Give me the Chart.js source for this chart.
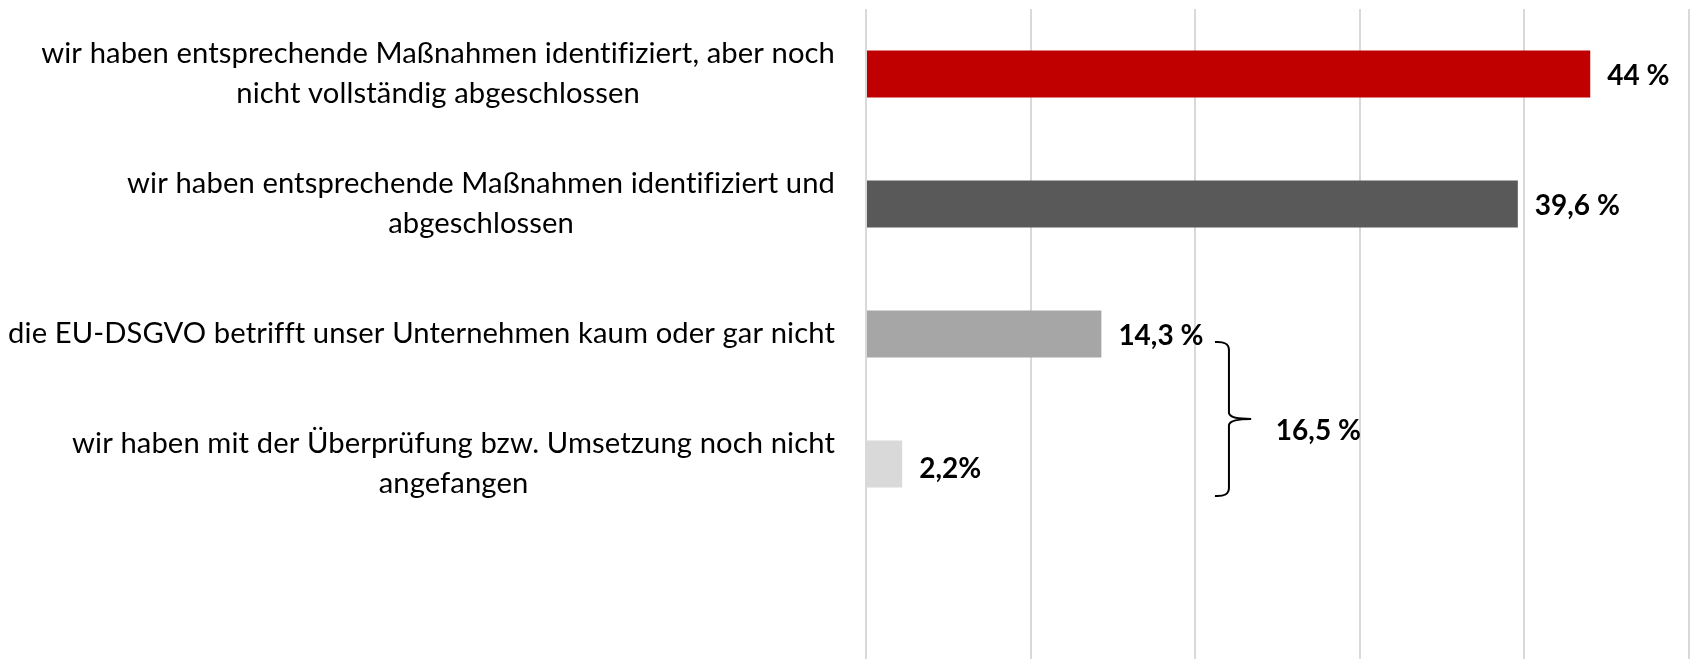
<!DOCTYPE html>
<html>
<head>
<meta charset="utf-8">
<script src="https://cdn.jsdelivr.net/npm/chart.js@4/dist/chart.umd.min.js"></script>
<style>
html,body{margin:0;padding:0;background:#fff;}
#wrap{width:1690px;height:659px;}
</style>
</head>
<body>
<div id="wrap"><canvas id="c" width="1690" height="659"></canvas></div>
<script>
const categories = [
  ["wir haben entsprechende Maßnahmen identifiziert, aber noch", "nicht vollständig abgeschlossen"],
  ["wir haben entsprechende Maßnahmen identifiziert und", "abgeschlossen"],
  ["die EU-DSGVO betrifft unser Unternehmen kaum oder gar nicht"],
  ["wir haben mit der Überprüfung bzw. Umsetzung noch nicht", "angefangen"]
];
const values = [44, 39.6, 14.3, 2.2];
const valueLabels = ["44 %", "39,6 %", "14,3 %", "2,2%"];
const barColors = ["#c00000", "#595959", "#a6a6a6", "#d9d9d9"];
const xTicks = [0, 10, 20, 30, 40, 50];
const bracketTotal = values[2] + values[3];

const FONT = "Lato";
const LABEL_SIZE = 29.2;
const VALUE_SIZE = 28;

const labelsPlugin = {
  id: 'labelsPlugin',
  afterDraw(chart) {
    const ctx = chart.ctx;
    const xs = chart.scales.x, ys = chart.scales.y;
    const area = chart.chartArea;
    ctx.save();
    ctx.font = LABEL_SIZE + "px " + FONT;
    try { ctx.letterSpacing = "0.1px"; } catch (e) {}
    ctx.fillStyle = "#000";
    ctx.textBaseline = "middle";
    ctx.textAlign = "center";
    const lineH = 40;
    categories.forEach((lines, i) => {
      const yc = ys.getPixelForValue(i);
      const w = Math.max(...lines.map(l => ctx.measureText(l).width));
      const right = area.left - 31;
      const cx = right - w / 2;
      const y0 = yc - (lines.length - 1) * lineH / 2;
      lines.forEach((l, j) => ctx.fillText(l, cx, y0 + j * lineH));
    });
    ctx.font = "bold " + VALUE_SIZE + "px " + FONT;
    try { ctx.letterSpacing = "0px"; } catch (e) {}
    ctx.textAlign = "left";
    values.forEach((v, i) => {
      const x = xs.getPixelForValue(v) + 17;
      const y = ys.getPixelForValue(i) + (i === 3 ? 5 : 2);
      ctx.fillText(valueLabels[i], x, y);
    });
    const xTip = xs.getPixelForValue(21.2);
    const xV = xs.getPixelForValue(22.05);
    const xMid = xs.getPixelForValue(23.4);
    const top = ys.getPixelForValue(2) + 8;
    const bot = ys.getPixelForValue(3) + 32;
    const mid = (top + bot) / 2;
    ctx.strokeStyle = "#000";
    ctx.lineWidth = 2;
    ctx.beginPath();
    ctx.moveTo(xTip, top);
    ctx.quadraticCurveTo(xV, top - 1, xV, top + 8);
    ctx.lineTo(xV, mid - 6);
    ctx.quadraticCurveTo(xV + 1, mid, xMid, mid);
    ctx.quadraticCurveTo(xV + 1, mid, xV, mid + 6);
    ctx.lineTo(xV, bot - 8);
    ctx.quadraticCurveTo(xV, bot + 1, xTip, bot);
    ctx.stroke();
    const pct = bracketTotal.toFixed(1).replace('.', ',') + " %";
    ctx.fillText(pct, xs.getPixelForValue(24.9), mid + 12);
    ctx.restore();
  }
};

new Chart(document.getElementById('c'), {
  type: 'bar',
  data: {
    labels: categories.map((c, i) => String(i)).concat(['']),
    datasets: [{
      data: values.concat([null]),
      backgroundColor: barColors,
      borderWidth: 0,
      barPercentage: 0.36,
      categoryPercentage: 1
    }]
  },
  options: {
    indexAxis: 'y',
    responsive: false,
    animation: false,
    layout: { padding: { top: 9, right: 1, bottom: 0, left: 0 } },
    plugins: { legend: { display: false }, tooltip: { enabled: false } },
    scales: {
      x: {
        min: 0, max: 50,
        afterBuildTicks: s => { s.ticks = xTicks.map(v => ({ value: v })); },
        ticks: { display: false },
        grid: { color: "#d9d9d9", lineWidth: 2, drawTicks: false },
        border: { display: false },
        afterFit: s => { s.height = 0; }
      },
      y: {
        ticks: { display: false },
        grid: { display: false, drawTicks: false },
        border: { display: false },
        afterFit: s => { s.width = 866; }
      }
    }
  },
  plugins: [labelsPlugin]
});
</script>
</body>
</html>
